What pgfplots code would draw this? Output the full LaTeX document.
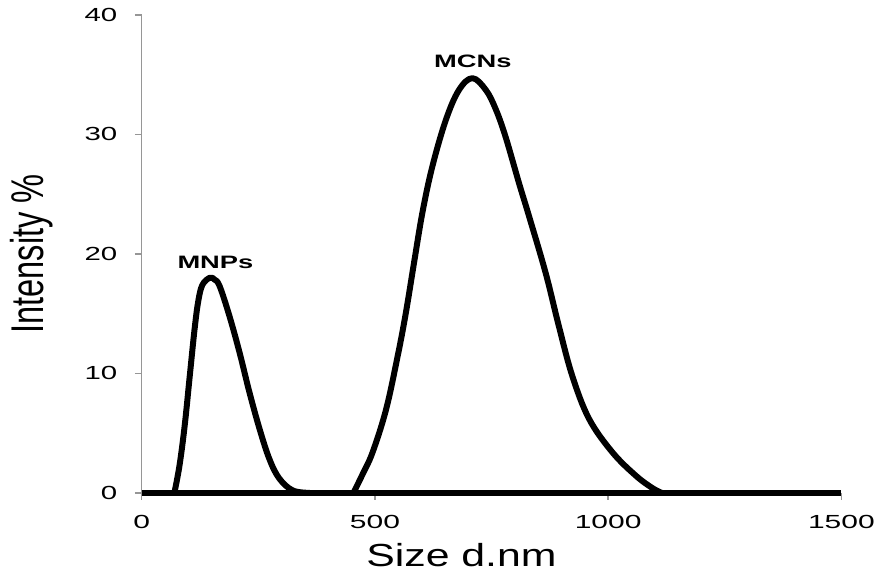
\documentclass[border=0pt]{standalone}
\usepackage{fontspec}
\setmainfont{Liberation Sans}
\usepackage{graphicx}
\usepackage{pgfplots}
\pgfplotsset{compat=1.18}
\definecolor{axgray}{RGB}{150,150,150}

\begin{document}
\begin{tikzpicture}
\begin{axis}[
    scale only axis,
    width=701pt, height=479pt,
    xmin=0, xmax=1500, ymin=0, ymax=40,
    axis x line*=bottom, axis y line*=left,
    axis line style={axgray, line width=1.5pt},
    xtick={0,500,1000,1500},
    ytick={0,10,20,30,40},
    tick align=outside,
    major tick length=7pt,
    tick style={axgray, line width=1.5pt},
    /pgf/number format/assume math mode=true,
    /pgf/number format/1000 sep={},
    xticklabel={\scalebox{1.58}[1]{\pgfmathprintnumber{\tick}}},
    yticklabel={\scalebox{1.55}[1]{\pgfmathprintnumber{\tick}}},
    ticklabel style={font=\fontsize{19}{19}\selectfont},
    xticklabel style={yshift=-12pt},
    yticklabel style={xshift=-14pt},
    xlabel={\scalebox{1.34}[1]{Size d.nm}},
    xlabel style={font=\fontsize{32}{32}\selectfont, at={(axis description cs:0.457,-0.131)}, anchor=center},
    ylabel={\scalebox{0.71}[1]{Intensity \%}},
    ylabel style={font=\fontsize{46}{46}\selectfont, at={(axis description cs:-0.157,0.5)}, anchor=center},
    clip=false,
]
% baseline
\addplot[black, line width=6pt] coordinates {(0,0) (1500,0)};
% MNPs peak
\addplot[black, line width=6pt, line join=round, line cap=round, smooth, tension=0.6] coordinates {
    (70,0) (81,2.3) (92,5.6) (103,9.8) (113,13.6) (121,16.0) (130,17.4)
    (146,18.0) (156,17.85) (167,17.3) (188,14.8) (210,11.7) (231,8.4)
    (253,5.3) (274,2.8) (295,1.2) (324,0.2) (360,0)
};
% MCNs peak
\addplot[black, line width=6pt, line join=round, line cap=round, smooth, tension=0.6] coordinates {
    (454,0) (474,1.6) (495,3.4) (524,7.0) (549,11.5) (566,15.0) (584,19.3)
    (602,23.5) (623,27.3) (652,31.2) (680,33.7) (709,34.7) (738,33.7)
    (759,32.1) (780,29.8) (809,25.9) (830,23.2) (866,18.4) (894,14.0)
    (923,9.8) (959,6.2) (1009,3.4) (1059,1.45) (1095,0.4) (1115,0)
};
\node[font=\bfseries\fontsize{18}{18}\selectfont] at (axis cs:158,19.3) {\scalebox{1.52}[1]{MNPs}};
\node[font=\bfseries\fontsize{18}{18}\selectfont] at (axis cs:710,36.1) {\scalebox{1.52}[1]{MCNs}};
\path (axis description cs:-0.2026,-0.171) rectangle (axis description cs:1.05,1.031);
\end{axis}
\end{tikzpicture}
\end{document}
